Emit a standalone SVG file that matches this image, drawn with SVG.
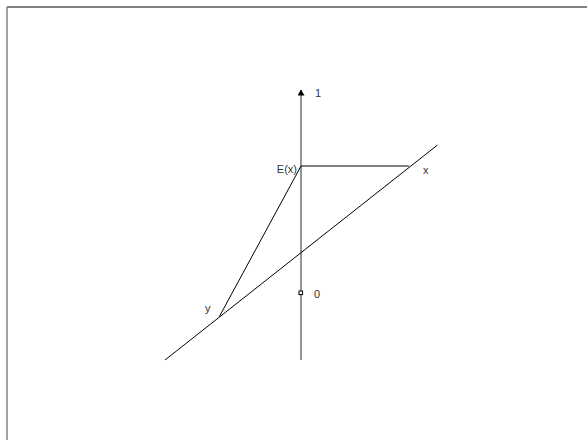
<svg xmlns="http://www.w3.org/2000/svg" width="587" height="440" viewBox="0 0 587 440">
<style>
.t{font-family:"Liberation Sans",Arial,sans-serif;font-size:11px;fill:#333}
.ln{stroke:#000;stroke-width:1;fill:none}
.ax{stroke:#7a7a7a;stroke-width:1.6;fill:none}
</style>
<defs>
<marker id="ah" viewBox="0 0 6 7" refX="5.5" refY="3.5" markerWidth="6" markerHeight="7" markerUnits="userSpaceOnUse" orient="auto">
<path d="M0,0 L6,3.5 L0,7 Z" fill="#000"/>
</marker>
</defs>
<rect width="587" height="440" fill="#fff"/>
<g id="frame">
<line x1="7" y1="7" x2="587" y2="7" stroke="#000" stroke-width="1.2"/>
<line x1="7" y1="7" x2="7" y2="440" stroke="#7a7a7a" stroke-width="1.4"/>
</g>
<g id="connectors">
<line class="ax" x1="301" y1="360" x2="301" y2="90" marker-end="url(#ah)"/>
<line class="ln" x1="165" y1="360" x2="437.5" y2="145"/>
<line class="ln" x1="301" y1="166" x2="409" y2="166"/>
<line class="ln" x1="301" y1="166" x2="219.3" y2="316.7"/>
</g>
<g id="zero">
<rect x="299" y="291" width="3.6" height="3.6" fill="#fff" stroke="#000" stroke-width="1"/>
<text class="t" x="314" y="298">0</text>
</g>
<g id="one"><text class="t" x="315" y="97">1</text></g>
<g id="Ex"><text class="t" x="297" y="173" text-anchor="end">E(x)</text></g>
<g id="x"><text class="t" x="423" y="174">x</text></g>
<g id="y"><text class="t" x="205" y="312">y</text></g>
</svg>
